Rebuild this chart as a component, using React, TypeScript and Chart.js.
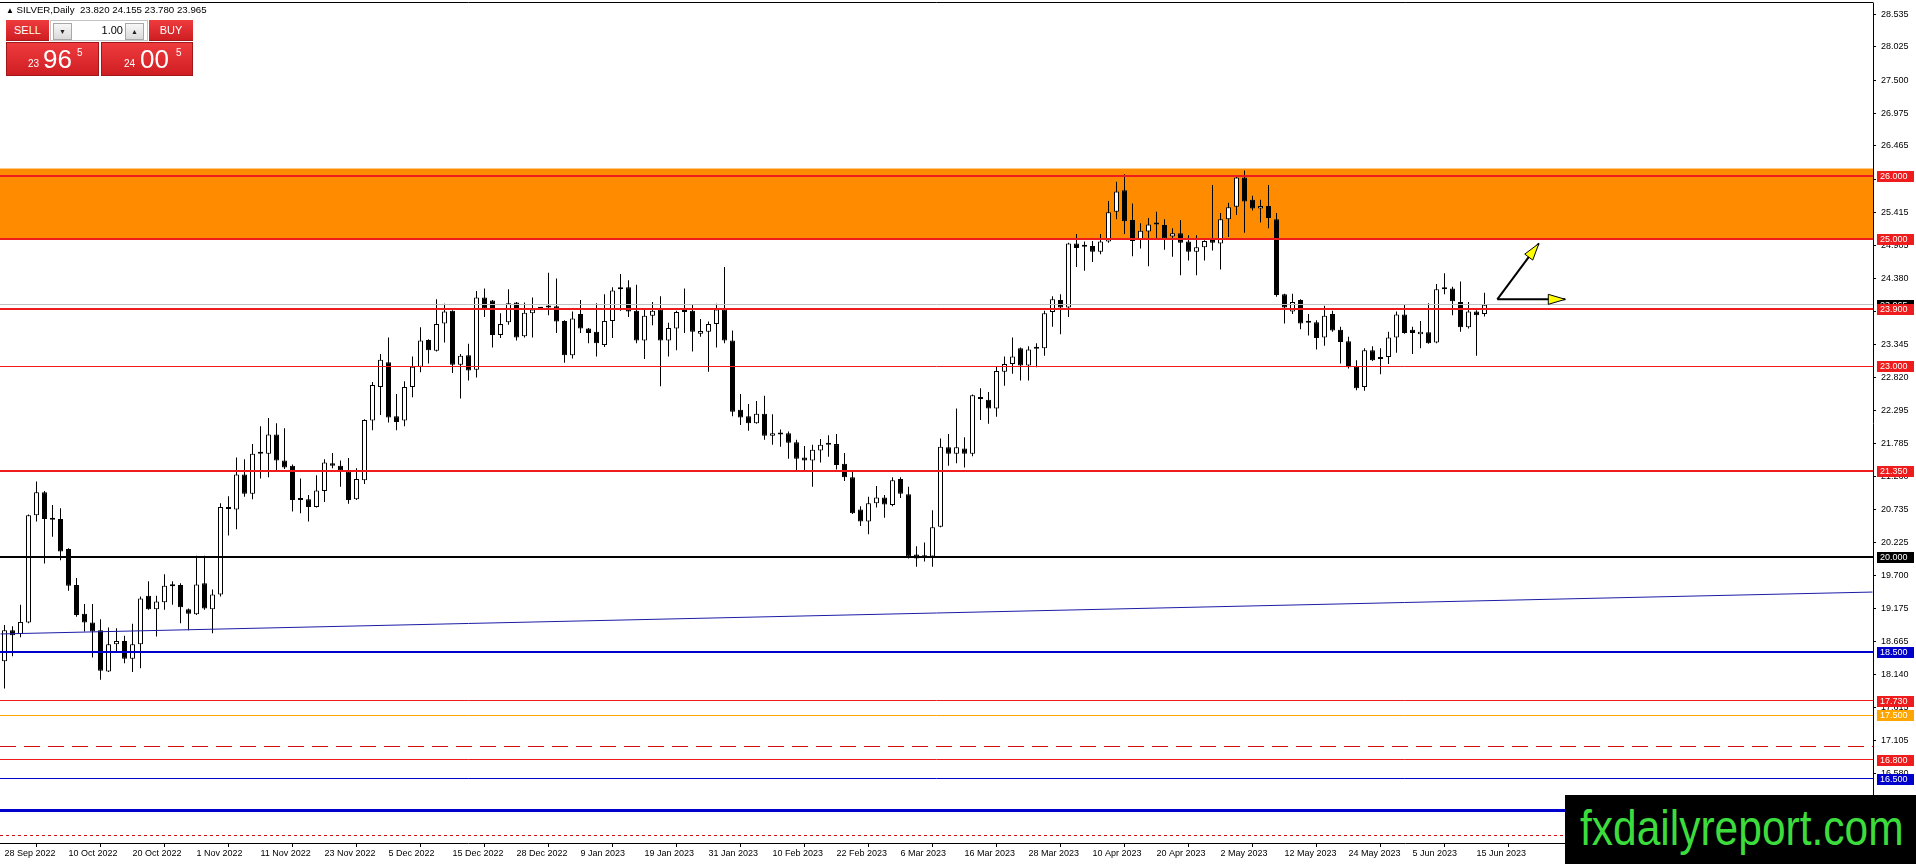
import React, { useEffect, useRef } from 'react';
import { Chart, registerables } from 'chart.js';

Chart.register(...registerables);

// ---------- data ----------
const xTickBars = [0, 8, 16, 24, 32, 40, 48, 56, 64, 72, 80, 88, 96, 104, 112, 120, 128, 136, 144, 152, 160, 168, 176, 184];
const xTickLabels = ['28 Sep 2022', '10 Oct 2022', '20 Oct 2022', '1 Nov 2022', '11 Nov 2022', '23 Nov 2022', '5 Dec 2022', '15 Dec 2022', '28 Dec 2022', '9 Jan 2023', '19 Jan 2023', '31 Jan 2023', '10 Feb 2023', '22 Feb 2023', '6 Mar 2023', '16 Mar 2023', '28 Mar 2023', '10 Apr 2023', '20 Apr 2023', '2 May 2023', '12 May 2023', '24 May 2023', '5 Jun 2023', '15 Jun 2023'];
const yTickValues = [28.535, 28.025, 27.5, 26.975, 26.465, 25.94, 25.415, 24.905, 24.38, 23.855, 23.345, 22.82, 22.295, 21.785, 21.26, 20.735, 20.225, 19.7, 19.175, 18.665, 18.14, 17.615, 17.105, 16.58];

const openPrices = [
  18.35, 18.84, 18.78, 18.96, 20.65, 21.01, 20.59, 20.59, 20.12, 19.55,
  19.10, 18.96, 18.84, 18.19, 18.62, 18.67, 18.39, 18.62, 19.38, 19.17,
  19.28, 19.54, 19.55, 19.17, 19.09, 19.58, 19.17, 19.40, 20.75, 20.74,
  21.29, 20.99, 21.62, 21.62, 21.92, 21.51, 21.43, 20.90, 20.90, 20.78,
  21.03, 21.47, 21.43, 21.34, 20.90, 21.20, 22.14, 22.67, 23.06, 22.21,
  22.14, 22.67, 22.99, 23.41, 23.24, 23.67, 23.87, 23.02, 23.17, 22.94,
  24.08, 24.03, 23.49, 23.69, 24.00, 23.47, 23.83, 23.90, 23.92, 23.94,
  23.71, 23.17, 23.82, 23.59, 23.54, 23.33, 23.71, 24.21, 24.24, 23.87,
  23.40, 23.79, 23.89, 23.40, 23.59, 23.86, 23.87, 23.51, 23.54, 23.66,
  23.89, 23.40, 22.31, 22.21, 22.10, 22.25, 21.90, 21.93, 21.94, 21.80,
  21.56, 21.51, 21.67, 21.77, 21.77, 21.46, 21.25, 20.74, 20.55, 20.84,
  20.93, 20.81, 21.22, 20.98, 20.03, 20.00, 20.00, 20.47, 21.72, 21.62,
  21.70, 21.62, 22.48, 22.47, 22.33, 22.91, 23.03, 23.28, 23.01, 23.27,
  23.28, 23.85, 24.04, 23.92, 24.93, 24.89, 24.89, 24.80, 24.96, 25.43,
  25.77, 25.30, 25.00, 25.12, 25.23, 25.22, 25.04, 25.09, 24.96, 24.80,
  24.87, 25.01, 24.93, 25.31, 25.51, 25.97, 25.62, 25.48, 25.52, 25.31,
  24.13, 23.86, 24.04, 23.68, 23.69, 23.45, 23.82, 23.57, 23.39, 22.99,
  22.67, 23.25, 23.11, 23.14, 23.45, 23.81, 23.57, 23.50, 23.53, 23.37,
  24.22, 24.22, 24.01, 23.61, 23.86, 23.82,
];
const highPrices = [
  18.92, 18.90, 19.24, 20.66, 21.18, 21.03, 20.81, 20.76, 20.13, 19.66,
  19.25, 19.25, 19.01, 18.88, 18.87, 18.75, 18.94, 19.37, 19.61, 19.38,
  19.72, 19.61, 19.58, 19.18, 20.01, 20.01, 19.48, 20.84, 20.95, 21.56,
  21.53, 21.77, 22.05, 22.18, 22.10, 22.02, 21.45, 21.23, 20.97, 21.28,
  21.53, 21.63, 21.51, 21.55, 21.39, 22.16, 22.75, 23.19, 23.45, 22.56,
  22.76, 23.15, 23.61, 23.42, 24.05, 23.98, 23.88, 23.19, 23.35, 24.18,
  24.22, 24.04, 23.83, 24.21, 24.01, 24.00, 24.08, 23.92, 24.47, 24.38,
  23.72, 23.86, 24.04, 23.60, 23.99, 24.13, 24.24, 24.45, 24.35, 24.28,
  23.89, 24.01, 24.10, 23.68, 23.87, 24.22, 23.96, 23.74, 23.70, 23.98,
  24.56, 23.56, 22.56, 22.40, 22.45, 22.53, 22.24, 22.00, 21.97, 21.84,
  21.74, 21.76, 21.85, 21.91, 21.93, 21.63, 21.34, 20.79, 20.94, 21.11,
  20.97, 21.25, 21.25, 21.10, 20.16, 20.22, 20.73, 21.86, 21.93, 22.33,
  21.88, 22.55, 22.65, 22.59, 23.00, 23.15, 23.45, 23.29, 23.31, 23.36,
  23.87, 24.10, 24.13, 24.94, 25.08, 24.96, 24.97, 25.08, 25.60, 25.90,
  26.02, 25.56, 25.25, 25.33, 25.43, 25.31, 25.17, 25.30, 25.06, 25.06,
  24.98, 25.85, 25.41, 25.57, 26.01, 26.08, 25.68, 25.62, 25.85, 25.41,
  24.14, 24.14, 24.05, 23.82, 23.72, 23.95, 23.87, 23.62, 23.46, 23.09,
  23.28, 23.31, 23.28, 23.54, 23.86, 23.96, 23.62, 23.71, 23.99, 24.29,
  24.46, 24.25, 24.33, 24.01, 23.88, 24.155,
];
const lowPrices = [
  17.92, 18.43, 18.73, 18.95, 20.55, 19.89, 20.31, 19.94, 19.46, 19.05,
  18.82, 18.41, 18.06, 18.18, 18.50, 18.32, 18.18, 18.24, 19.16, 18.74,
  19.16, 19.24, 18.95, 18.84, 19.08, 19.16, 18.79, 19.37, 20.33, 20.43,
  20.94, 20.90, 21.23, 21.25, 21.36, 21.38, 20.71, 20.68, 20.55, 20.77,
  20.86, 21.39, 21.10, 20.83, 20.89, 21.14, 21.99, 22.23, 22.11, 21.99,
  22.05, 22.51, 22.90, 23.04, 23.23, 23.37, 22.89, 22.49, 22.77, 22.82,
  23.77, 23.29, 23.44, 23.65, 23.40, 23.45, 23.45, 23.89, 23.80, 23.52,
  23.05, 23.12, 23.52, 23.36, 23.15, 23.30, 23.44, 23.87, 23.77, 23.36,
  23.11, 23.64, 22.68, 23.15, 23.25, 23.52, 23.23, 23.46, 22.91, 23.29,
  23.36, 22.21, 22.07, 21.98, 22.09, 21.84, 21.76, 21.73, 21.54, 21.36,
  21.35, 21.10, 21.48, 21.57, 21.37, 21.19, 20.67, 20.48, 20.35, 20.77,
  20.61, 20.79, 20.92, 19.97, 19.84, 19.92, 19.84, 20.46, 21.43, 21.47,
  21.40, 21.58, 22.15, 22.09, 22.20, 22.69, 22.88, 22.77, 22.77, 22.98,
  23.16, 23.62, 23.50, 23.77, 24.56, 24.50, 24.64, 24.76, 24.94, 25.31,
  25.08, 24.73, 24.85, 24.57, 24.99, 24.83, 24.72, 24.43, 24.66, 24.43,
  24.66, 24.82, 24.52, 25.03, 25.38, 25.10, 25.45, 25.26, 25.17, 24.09,
  23.67, 23.82, 23.58, 23.48, 23.26, 23.32, 23.54, 23.04, 22.96, 22.62,
  22.61, 23.08, 22.87, 23.03, 23.21, 23.51, 23.19, 23.28, 23.35, 23.36,
  24.13, 23.80, 23.54, 23.59, 23.16, 23.78,
];
const closePrices = [
  18.84, 18.76, 18.97, 20.65, 21.01, 20.59, 20.58, 20.08, 19.54, 19.08,
  18.96, 18.82, 18.20, 18.62, 18.67, 18.39, 18.62, 19.34, 19.17, 19.29,
  19.54, 19.53, 19.20, 19.10, 19.56, 19.18, 19.40, 20.78, 20.76, 21.29,
  20.99, 21.62, 21.65, 21.92, 21.51, 21.40, 20.89, 20.89, 20.78, 21.04,
  21.48, 21.43, 21.36, 20.89, 21.22, 22.15, 22.70, 23.10, 22.19, 22.12,
  22.67, 22.99, 23.40, 23.25, 23.66, 23.86, 23.02, 23.16, 22.93, 24.08,
  23.91, 23.49, 23.66, 23.99, 23.45, 23.84, 23.89, 23.91, 23.93, 23.70,
  23.17, 23.75, 23.59, 23.52, 23.36, 23.71, 24.19, 24.24, 23.86, 23.40,
  23.79, 23.87, 23.40, 23.60, 23.85, 23.85, 23.54, 23.55, 23.66, 23.89,
  23.40, 22.28, 22.19, 22.10, 22.25, 21.90, 21.94, 21.92, 21.79, 21.54,
  21.51, 21.68, 21.76, 21.76, 21.44, 21.25, 20.68, 20.55, 20.84, 20.93,
  20.82, 21.20, 20.99, 20.00, 19.97, 19.99, 20.46, 21.73, 21.62, 21.72,
  21.62, 22.54, 22.49, 22.33, 22.92, 23.03, 23.15, 23.01, 23.26, 23.28,
  23.83, 24.05, 23.92, 24.93, 24.86, 24.88, 24.80, 24.96, 25.42, 25.75,
  25.28, 24.97, 25.13, 25.23, 25.24, 25.01, 25.09, 24.94, 24.80, 24.87,
  24.97, 24.94, 25.31, 25.50, 25.97, 25.59, 25.48, 25.52, 25.33, 24.12,
  23.92, 24.01, 23.67, 23.69, 23.44, 23.79, 23.56, 23.38, 22.98, 22.65,
  23.25, 23.09, 23.12, 23.45, 23.81, 23.52, 23.52, 23.54, 23.36, 24.21,
  24.21, 24.02, 23.61, 23.86, 23.80, 23.965,
];

const zonePrices = [24.99, 26.11];
const bidPrice = 23.965;
const levelPrices = [26.0, 25.0, 23.9, 23.0, 21.35, 20.0, 18.5, 17.73, 17.5, 17.0, 16.8, 16.5, 16.0, 15.6];
const labelPrices = [26.0, 25.0, 23.9, 23.0, 21.35, 20.0, 18.5, 17.73, 17.5, 16.8, 16.5];
const trendBars = [-0.5, 233.5];
const trendPrices = [18.78, 19.44];
const arrowStart = [186.6, 24.05];
const arrowEnds = [[191.8, 24.93], [195.1, 24.05]];

// ---------- styles ----------
const RED = '#ee1c1c';
const BLUE = '#0000cd';
const ORANGE = '#ffa500';
const FONT = '"Liberation Sans", Arial, Helvetica, sans-serif';
const levelStyles = [
  { color: RED, width: 2, dash: [] as number[] },
  { color: RED, width: 2, dash: [] },
  { color: RED, width: 2, dash: [] },
  { color: RED, width: 1, dash: [] },
  { color: RED, width: 2, dash: [] },
  { color: '#000000', width: 2, dash: [] },
  { color: BLUE, width: 2, dash: [] },
  { color: RED, width: 1, dash: [] },
  { color: ORANGE, width: 1, dash: [] },
  { color: '#d01010', width: 1, dash: [16, 8] },
  { color: RED, width: 1, dash: [] },
  { color: BLUE, width: 1, dash: [] },
  { color: BLUE, width: 3, dash: [] },
  { color: '#d01010', width: 1, dash: [3, 3] },
];
const labelColors = [RED, RED, RED, RED, RED, '#000000', BLUE, RED, ORANGE, RED, BLUE];

const X_MIN = -0.5625;
const X_MAX = 233.5625;
const Y_MIN = 15.488;
const Y_MAX = 28.717;

function crisp(y: number, w: number) {
  return w % 2 === 1 ? Math.round(y - 0.5) + 0.5 : Math.round(y);
}

const overlayPlugin = {
  id: 'mtOverlay',
  beforeDatasetsDraw(chart: any) {
    const { ctx, chartArea: a, scales } = chart;
    const y = scales.y;
    ctx.save();
    ctx.beginPath();
    ctx.rect(a.left, a.top, a.right - a.left, a.bottom - a.top);
    ctx.clip();
    const zt = y.getPixelForValue(zonePrices[1]);
    const zb = y.getPixelForValue(zonePrices[0]);
    ctx.fillStyle = '#ff8c00';
    ctx.fillRect(a.left, zt, a.right - a.left, zb - zt);
    ctx.restore();
  },
  afterDatasetsDraw(chart: any) {
    const { ctx, chartArea: a, scales } = chart;
    const x = scales.x;
    const y = scales.y;
    ctx.save();
    ctx.beginPath();
    ctx.rect(a.left, a.top, a.right - a.left, a.bottom - a.top);
    ctx.clip();
    // bid line
    const by = crisp(y.getPixelForValue(bidPrice), 1);
    ctx.strokeStyle = '#c0c0c0';
    ctx.lineWidth = 1;
    ctx.setLineDash([]);
    ctx.beginPath();
    ctx.moveTo(a.left, by);
    ctx.lineTo(a.right, by);
    ctx.stroke();
    levelPrices.forEach((p, i) => {
      const st = levelStyles[i];
      const py = crisp(y.getPixelForValue(p), st.width);
      ctx.strokeStyle = st.color;
      ctx.lineWidth = st.width;
      ctx.setLineDash(st.dash);
      ctx.beginPath();
      ctx.moveTo(a.left, py);
      ctx.lineTo(a.right, py);
      ctx.stroke();
    });
    ctx.setLineDash([]);
    // arrows
    const x0 = x.getPixelForValue(arrowStart[0]);
    const y0 = y.getPixelForValue(arrowStart[1]);
    arrowEnds.forEach(([b, p]) => {
      const x1 = x.getPixelForValue(b);
      const y1 = y.getPixelForValue(p);
      ctx.strokeStyle = '#000';
      ctx.lineWidth = 2;
      ctx.beginPath();
      ctx.moveTo(x0, y0);
      ctx.lineTo(x1, y1);
      ctx.stroke();
      const ang = Math.atan2(y1 - y0, x1 - x0);
      const len = 17;
      const half = 5;
      const bx = x1 - len * Math.cos(ang);
      const byy = y1 - len * Math.sin(ang);
      ctx.beginPath();
      ctx.moveTo(x1, y1);
      ctx.lineTo(bx + half * Math.sin(ang), byy - half * Math.cos(ang));
      ctx.lineTo(bx - half * Math.sin(ang), byy + half * Math.cos(ang));
      ctx.closePath();
      ctx.fillStyle = '#ffff00';
      ctx.fill();
      ctx.lineWidth = 1;
      ctx.stroke();
    });
    ctx.restore();
  },
  afterDraw(chart: any) {
    const { ctx, chartArea: a, scales } = chart;
    const y = scales.y;
    ctx.save();
    // top border
    ctx.strokeStyle = '#000';
    ctx.lineWidth = 1;
    ctx.beginPath();
    ctx.moveTo(0, a.top - 0.5);
    ctx.lineTo(a.right + 0.5, a.top - 0.5);
    ctx.stroke();
    ctx.font = `9px ${FONT}`;
    ctx.textBaseline = 'middle';
    ctx.textAlign = 'left';
    const drawLabel = (p: number, color: string) => {
      const py = Math.round(y.getPixelForValue(p));
      ctx.fillStyle = color;
      ctx.fillRect(a.right + 4, py - 5, 37, 11);
      ctx.fillStyle = '#ffffff';
      ctx.fillText(p.toFixed(3), a.right + 7, py + 0.5);
    };
    drawLabel(bidPrice, '#000000');
    labelPrices.forEach((p, i) => drawLabel(p, labelColors[i]));
    ctx.restore();
  },
};

export default function App() {
  const ref = useRef<HTMLCanvasElement>(null);
  useEffect(() => {
    const bars = openPrices.map((_, i) => i);
    const chart = new Chart(ref.current as HTMLCanvasElement, {
      type: 'bar',
      data: {
        datasets: [
          {
            type: 'line',
            data: trendBars.map((b, i) => ({ x: b, y: trendPrices[i] })),
            borderColor: '#1c1ca6',
            borderWidth: 1,
            pointRadius: 0,
            fill: false,
            tension: 0,
            order: 0,
          } as any,
          {
            type: 'bar',
            data: bars.map((i) => ({ x: i, y: [lowPrices[i], highPrices[i]] })),
            backgroundColor: '#000000',
            borderWidth: 0,
            barThickness: 1,
            grouped: false,
            inflateAmount: 0,
            order: 2,
          } as any,
          {
            type: 'bar',
            data: bars.map((i) => ({ x: i, y: [openPrices[i], closePrices[i]] })),
            backgroundColor: bars.map((i) => (closePrices[i] >= openPrices[i] ? '#ffffff' : '#000000')),
            borderColor: '#000000',
            borderWidth: 1,
            borderSkipped: false,
            barThickness: 5,
            minBarLength: 2,
            grouped: false,
            inflateAmount: 0,
            order: 1,
          } as any,
        ],
      },
      options: {
        responsive: false,
        animation: false,
        devicePixelRatio: 1,
        events: [],
        layout: { padding: { top: 3, left: 0, right: 0, bottom: 0 } },
        plugins: { legend: { display: false }, tooltip: { enabled: false } },
        scales: {
          x: {
            type: 'linear',
            min: X_MIN,
            max: X_MAX,
            offset: false,
            bounds: 'data',
            afterBuildTicks: (s: any) => {
              s.ticks = xTickBars.map((v) => ({ value: v }));
            },
            afterFit: (s: any) => {
              s.height = 21;
              s.paddingLeft = 0;
              s.paddingRight = 0;
            },
            ticks: {
              autoSkip: false,
              maxRotation: 0,
              minRotation: 0,
              align: 'start',
              padding: 1,
              color: '#000000',
              font: { family: FONT, size: 9 },
              callback: (v: any) => {
                const k = xTickBars.indexOf(Number(v));
                return k >= 0 ? xTickLabels[k] : '';
              },
            },
            grid: { display: true, drawOnChartArea: false, drawTicks: true, tickLength: 4, color: '#000000' },
            border: { display: true, color: '#000000', width: 1 },
          },
          y: {
            type: 'linear',
            position: 'right',
            min: Y_MIN,
            max: Y_MAX,
            bounds: 'data',
            afterBuildTicks: (s: any) => {
              s.ticks = yTickValues.map((v) => ({ value: v }));
            },
            afterFit: (s: any) => {
              s.width = 43;
              s.paddingTop = 0;
              s.paddingBottom = 0;
            },
            ticks: {
              autoSkip: false,
              padding: 5,
              color: '#000000',
              font: { family: FONT, size: 9 },
              callback: (v: any) => Number(v).toFixed(3),
            },
            grid: { display: true, drawOnChartArea: false, drawTicks: true, tickLength: 3, color: '#000000' },
            border: { display: true, color: '#000000', width: 1 },
          },
        },
      } as any,
      plugins: [overlayPlugin],
    });
    return () => chart.destroy();
  }, []);

  const redGrad = 'linear-gradient(#ee3b3e, #cf1e22)';
  const small = { position: 'absolute' as const, fontSize: 10, lineHeight: '10px', color: '#fff' };
  const big = { position: 'absolute' as const, fontSize: 26, lineHeight: '26px', color: '#fff' };
  const btn = {
    position: 'absolute' as const,
    top: 2,
    width: 17,
    height: 15,
    background: 'linear-gradient(#f7f7f7, #dadada)',
    border: '1px solid #a8a8a8',
    fontSize: 7,
    lineHeight: '15px',
    textAlign: 'center' as const,
    color: '#222',
  };

  return (
    <div style={{ position: 'fixed', left: 0, top: 0, width: 1916, height: 864, background: '#ffffff', overflow: 'hidden', fontFamily: FONT }}>
      <canvas ref={ref} width={1916} height={864} style={{ position: 'absolute', left: 0, top: 0, width: 1916, height: 864 }} />
      <div style={{ position: 'absolute', left: 6, top: 4, fontSize: 9.7, lineHeight: '12px', color: '#000', whiteSpace: 'pre' }}>
        <span style={{ fontSize: 8 }}>▲</span> SILVER,Daily  23.820 24.155 23.780 23.965
      </div>
      {/* one-click trading panel */}
      <div style={{ position: 'absolute', left: 6, top: 20, width: 43, height: 21, background: redGrad, color: '#fff', fontSize: 11, lineHeight: '21px', textAlign: 'center', boxSizing: 'border-box', borderBottom: '1px solid #a3171a' }}>SELL</div>
      <div style={{ position: 'absolute', left: 50, top: 20, width: 98, height: 21, background: '#fff', border: '1px solid #c4c4c4', boxSizing: 'border-box' }}>
        <div style={{ ...btn, left: 2 }}>▼</div>
        <div style={{ position: 'absolute', right: 24, top: 0, fontSize: 11, lineHeight: '19px', color: '#000' }}>1.00</div>
        <div style={{ ...btn, left: 74 }}>▲</div>
      </div>
      <div style={{ position: 'absolute', left: 149, top: 20, width: 44, height: 21, background: redGrad, color: '#fff', fontSize: 11, lineHeight: '21px', textAlign: 'center', boxSizing: 'border-box', borderBottom: '1px solid #a3171a' }}>BUY</div>
      <div style={{ position: 'absolute', left: 6, top: 42, width: 93, height: 34, background: redGrad, border: '1px solid #a3171a', boxSizing: 'border-box' }}>
        <span style={{ ...small, left: 21, top: 16 }}>23</span>
        <span style={{ ...big, left: 36, top: 3 }}>96</span>
        <span style={{ ...small, left: 70, top: 5 }}>5</span>
      </div>
      <div style={{ position: 'absolute', left: 101, top: 42, width: 92, height: 34, background: redGrad, border: '1px solid #a3171a', boxSizing: 'border-box' }}>
        <span style={{ ...small, left: 22, top: 16 }}>24</span>
        <span style={{ ...big, left: 38, top: 3 }}>00</span>
        <span style={{ ...small, left: 74, top: 5 }}>5</span>
      </div>
      {/* watermark */}
      <div style={{ position: 'absolute', left: 1565, top: 795, width: 351, height: 69, background: '#000' }}>
        <div style={{ position: 'absolute', left: 15, top: 8, fontSize: 50, lineHeight: '50px', color: '#3ddc3d', whiteSpace: 'nowrap', transform: 'scaleX(0.85)', transformOrigin: 'left top' }}>fxdailyreport.com</div>
      </div>
    </div>
  );
}
